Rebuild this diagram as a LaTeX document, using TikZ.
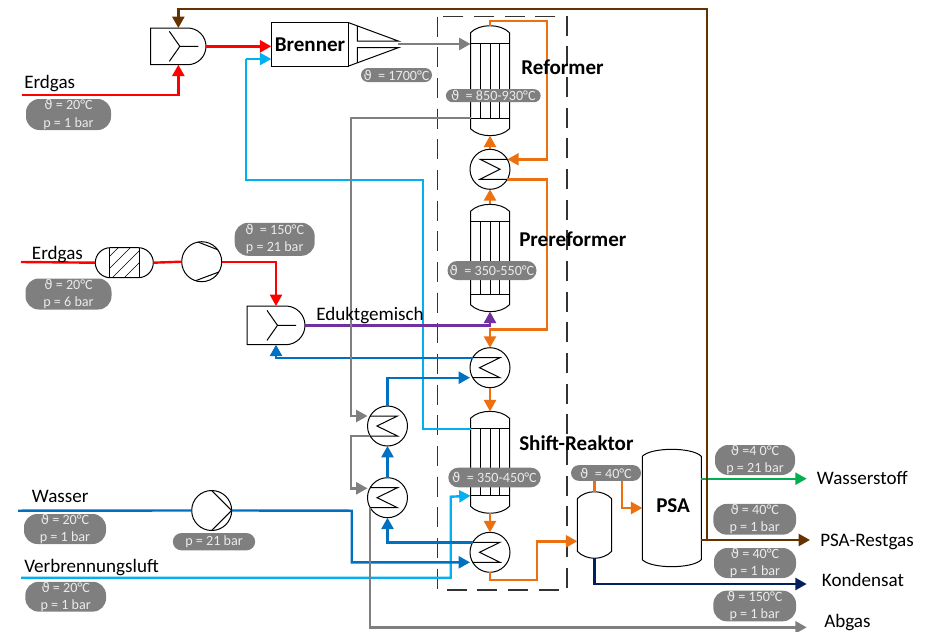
\documentclass[tikz,border=0pt]{standalone}
\usepackage{fontspec}
\setmainfont{Carlito}
\newfontfamily\thetafont{DejaVu Sans}
\usepackage{tikz}
\usetikzlibrary{arrows.meta,positioning,shapes.misc,calc}
\definecolor{flowred}{HTML}{FF0000}
\definecolor{flowsky}{HTML}{00B0F0}
\definecolor{flowblue}{HTML}{0070C0}
\definecolor{floworange}{HTML}{ED7010}
\definecolor{flowbrown}{HTML}{663300}
\definecolor{flowgray}{HTML}{7F7F7F}
\definecolor{flowpurple}{HTML}{7030A0}
\definecolor{flowgreen}{HTML}{00B050}
\definecolor{flownavy}{HTML}{002060}
\newcommand{\Temp}{{\thetafont\fontsize{10}{12}\selectfont ϑ}}
\tikzset{
  pipe/.style={line width=1.8pt},
  flow/.style={pipe,-{Triangle[length=8.5pt,width=9pt]}},
  apparat/.style={draw=black,line width=.75pt},
  badge/.style 2 args={fill=flowgray,text=white!92!black,rounded corners=10pt,align=center,inner sep=0pt,
    minimum width={#1*.75pt},minimum height={#2*.75pt},font=\fontsize{10.6}{13}\selectfont},
  kleinbadge/.style 2 args={rounded rectangle,fill=flowgray,text=white!92!black,inner sep=0pt,
    minimum width={#1*.75pt},minimum height={#2*.75pt},font=\fontsize{10.6}{13}\selectfont},
  strom/.style={anchor=base west,inner sep=0pt,font=\fontsize{14.3}{17}\selectfont},
  titel/.style={anchor=base west,inner sep=0pt,font=\fontsize{15.8}{18}\selectfont\bfseries},
  rund/.style={circle,apparat,inner sep=0pt,outer sep=0pt,minimum size=30pt},
  tauscherlinks/.style={rund,path picture={
    \draw[apparat,shift={(path picture bounding box.center)}] (-21,-10) -- (10,-10) -- (-10.5,0) -- (10,10) -- (-21,10);}},
  tauscherrechts/.style={rund,path picture={
    \draw[apparat,shift={(path picture bounding box.center)}] (21,-10) -- (-10,-10) -- (10,0) -- (-10,10) -- (21,10);}},
  verdichter/.style={rund,path picture={
    \draw[apparat,shift={(path picture bounding box.center)}] (-4.5,-20) -- (18.5,-11) (-7.5,19.5) -- (18,10);}},
  pumpe/.style={rund,path picture={
    \draw[apparat,shift={(path picture bounding box.center)}] (0,-20) -- (20,0) -- (0,20);}},
  mischer/.style 2 args={rounded rectangle,rounded rectangle west arc=none,apparat,inner sep=0pt,outer sep=0pt,
    minimum width={#1*.75pt},minimum height={#2*.75pt},path picture={
    \draw[apparat,shift={(path picture bounding box.center)}]
      (-9,-15) -- (1.5,0) -- (-9,15) (1.5,0) -- (20,0);}},
  filterbox/.style={rounded rectangle,apparat,inner sep=0pt,outer sep=0pt,
    minimum width={58*.75pt},minimum height={30*.75pt},path picture={
    \begin{scope}[shift={(path picture bounding box.center)}]
      \draw[apparat] (-14.7,-16) -- (-14.7,16) (14.7,-16) -- (14.7,16);
      \clip (-14.7,-15) rectangle (14.7,15);
      \foreach \d in {-36,-24,-12,0} \draw[line width=.5pt] (\d,15) -- (\d+30,-15);
    \end{scope}}},
}
%% behaelter: name, x, half width, y top, y bottom
\newcommand{\behaelter}[5]{%
  \node[inner sep=0pt,outer sep=0pt,minimum width={2*#3*.75pt},minimum height={(#5-#4)*.75pt}] (#1) at (#2,{(#4+#5)/2}) {};
  \draw[apparat] ({#2-#3},{#4+7}) .. controls ({#2-#3+9},{#4-2.3}) and ({#2+#3-9},{#4-2.3}) .. ({#2+#3},{#4+7})
    -- ({#2+#3},{#5-7}) .. controls ({#2+#3-9},{#5+2.3}) and ({#2-#3+9},{#5+2.3}) .. ({#2-#3},{#5-7}) -- cycle;
}
%% reaktor: name, y top, y bottom
\newcommand{\reaktor}[3]{%
  \behaelter{#1}{490}{19.5}{#2}{#3}
  \coordinate (#1tl) at (470.5,{#2+17.5});
  \coordinate (#1bl) at (470.5,{#3-17.5});
  \draw[apparat] (#1tl) -- +(39,0) (#1bl) -- +(39,0);
  \foreach \rohr in {-9.5,0,9.5}
    \draw[apparat] ({490+\rohr},{#2+17.5}) -- ({490+\rohr},{#3-17.5});
}

\begin{document}
\begin{tikzpicture}[x=.75pt,y=-.75pt]
  \useasboundingbox (0,0) rectangle (926,632);

  %% ---- apparatus ----
  \node[apparat,inner sep=0pt,outer sep=0pt,minimum width={77.4*.75pt},minimum height={43.3*.75pt},
    font=\fontsize{15.8}{18}\selectfont\bfseries] (brenner) at (310,44.35) {Brenner};
  \draw[apparat] (brenner.north east) -- (398.3,41) -- (357.3,41) -- (357.3,26);
  \draw[apparat] (brenner.south east) -- (398.3,47.7) -- (357.3,47.7) -- (357.3,62.7);
  \coordinate (duese) at (398.3,44);

  \node[mischer={55.3}{36.7}] (mixa) at (178.35,46.35) {};
  \node[mischer={58}{38.7}] (mixb) at (276,325.35) {};
  \node[filterbox] (filter) at (124.3,262.7) {};
  \node[verdichter] (verd) at (201.7,261.7) {};
  \node[pumpe] (pump) at (211.7,510.5) {};

  \reaktor{reformer}{25.7}{135.7}
  \reaktor{prereformer}{204.3}{311.7}
  \reaktor{shift}{411.3}{513.3}
  \behaelter{abscheider}{594.5}{17.2}{491.7}{558.3}
  \behaelter{psa}{671.8}{29.5}{449.3}{566.7}

  \node[tauscherrechts] (hxa) at (490,169.3) {};
  \node[tauscherlinks] (hxb) at (490,367.7) {};
  \node[tauscherlinks] (hxc) at (490,552.3) {};
  \node[tauscherlinks] (hxd) at (387.5,426) {};
  \node[tauscherlinks] (hxe) at (387.5,497.7) {};

  %% dashed frame
  \draw[black!80,line width=.85pt,dash pattern=on 15pt off 8pt] (437.3,16.7) rectangle (567,590);

  %% ---- free ends and bends ----
  \coordinate (erdgasa) at (22,95);
  \coordinate (erdgasb) at (21,262);
  \coordinate (wasser) at (18,510.7);
  \coordinate (luft) at (21,577.7);
  \coordinate (wasserstoff) at (806.7,478.7);
  \coordinate (restgas) at (810,540);
  \coordinate (kondensat) at (806.7,584);
  \coordinate (abgas) at (806.7,627.3);

  %% ---- red: natural gas ----
  \draw[flow,flowred] (erdgasa) -| (mixa.south);
  \draw[flow,flowred] (mixa.east) -- (mixa.east -| brenner.west);
  \draw[pipe,flowred] (erdgasb) -- (filter.west);
  \draw[pipe,flowred] (filter.east) -- (verd.west);
  \draw[flow,flowred] (verd.east) -| (mixb.north);

  %% ---- light blue: combustion air ----
  \coordinate (luftk) at (450.7,496.7);
  \coordinate (luftb) at (422.7,180);
  \coordinate (luftc) at (246,59);
  \draw[pipe,flowsky] (shifttl) -| (luftb) -| (luftc);
  \draw[flow,flowsky] (luftc) -- (luftc -| brenner.west);
  \draw[flow,flowsky] (luft) -| (luftk) -- (shiftbl);

  %% ---- blue: water ----
  \coordinate (wasserk) at (351.7,510.7);
  \draw[pipe,flowblue] (wasser) -- (pump.west);
  \draw[flow,flowblue] (pump.east) -- (wasserk) |- (hxc.210 -| hxc.west);
  \draw[flow,flowblue] (hxc.150) -| (hxe.south);
  \draw[flow,flowblue] (hxe.north) -- (hxd.south);
  \draw[flow,flowblue] (hxd.north) |- (hxb.210 -| hxb.west);
  \draw[flow,flowblue] (hxb.150) -| (mixb.south);

  %% ---- purple: feed mixture ----
  \draw[flow,flowpurple] (mixb.east) -| (prereformer.south);

  %% ---- orange: process gas ----
  \coordinate (orangea) at (547,21);
  \coordinate (orangeb) at (547,329.3);
  \coordinate (orangec) at (536.7,580);
  \coordinate (oranged) at (577.3,541.3);
  \coordinate (orangee) at (621.7,473);
  \draw[flow,floworange] (reformer.north) |- (orangea) |- (hxa.30);
  \draw[flow,floworange] (hxa.north) -- (reformer.south);
  \draw[flow,floworange] (prereformer.north) -- (hxa.south);
  \draw[flow,floworange] (hxa.330) -| (orangeb) -| (hxb.north);
  \draw[flow,floworange] (hxb.south) -- (shift.north);
  \draw[flow,floworange] (shift.south) -- (hxc.north);
  \draw[flow,floworange] (hxc.south) |- (orangec) |- (oranged);
  \draw[flow,floworange] (abscheider.north) |- (orangee) |- (psa.west);

  %% ---- products ----
  \coordinate (abzweig) at (706.7,540);
  \coordinate (brownturn) at (706.7,9);
  \coordinate (psarest) at (701.3,540);
  \coordinate (psaprod) at (701.3,478.7);
  \draw[flow,flowgreen] (psaprod) -- (wasserstoff);
  \draw[flow,flowbrown] (psarest) -- (restgas);
  \draw[flow,flowbrown] (abzweig) -- (brownturn) -| (mixa.north);
  \draw[flow,flownavy] (abscheider.south) |- (kondensat);

  %% ---- gray: flue gas ----
  \coordinate (rauchb) at (351,117.3);
  \coordinate (rauchc) at (351,488.3);
  \draw[flow,flowgray] (duese) -- (duese -| reformer.west);
  \draw[flow,flowgray] (reformerbl) -| (rauchb) |- (hxd.150 -| hxd.west);
  \draw[flow,flowgray] (hxd.210) -| (rauchc) -- (rauchc -| hxe.west);
  \draw[flow,flowgray] (hxe.210) |- (abgas);

  %% ---- labels ----
  \node[strom] (txterdgasa) at (24,88) {Erdgas};
  \node[strom] (txterdgasb) at (31.7,259.3) {Erdgas};
  \node[strom] (txtedukt) at (316,320) {Eduktgemisch};
  \node[strom] (txtwasser) at (31.7,502) {Wasser};
  \node[strom] (txtluft) at (24,572) {Verbrennungsluft};
  \node[strom] (txtstoff) at (816.7,484) {Wasserstoff};
  \node[strom] (txtrest) at (820,546.7) {PSA-Restgas};
  \node[strom] (txtkond) at (821.7,586) {Kondensat};
  \node[strom] (txtabgas) at (824,627.5) {Abgas};
  \node[titel] (txtreformer) at (521,74) {Reformer};
  \node[titel] (txtpre) at (519,246.7) {Prereformer};
  \node[titel] (txtshift) at (519,450) {Shift-Reaktor};
  \node[titel] (txtpsa) at (656,512.7) {PSA};

  %% ---- process conditions ----
  \node[badge={85}{31}] (ba) at (68.5,114.5) {\Temp{} = 20°C\\p = 1 bar};
  \node[kleinbadge={71}{14}] (bb) at (396.5,75) {\Temp{}\ \ = 1700°C};
  \node[kleinbadge={94.7}{13}] (bc) at (493.3,95.7) {\Temp{}\ \ = 850-930°C};
  \node[badge={80}{33}] (bd) at (274.7,239.3) {\Temp{}\ \ = 150°C\\p = 21 bar};
  \node[badge={86}{31}] (be) at (68.5,294) {\Temp{} = 20°C\\p = 6 bar};
  \node[kleinbadge={89}{19}] (bf) at (492,270.5) {\Temp{}\ \ = 350-550°C};
  \node[kleinbadge={92.4}{19.6}] (bg) at (494.5,477.5) {\Temp{}\ \ = 350-450°C};
  \node[kleinbadge={70}{15.7}] (bh) at (606,473) {\Temp{}\ \ = 40°C};
  \node[badge={80}{30}] (bi) at (755,460) {\Temp{} =4 0°C\\p = 21 bar};
  \node[badge={82.7}{30.7}] (bj) at (754.7,519.3) {\Temp{} = 40°C\\p = 1 bar};
  \node[badge={82}{30}] (bk) at (755,563) {\Temp{} = 40°C\\p = 1 bar};
  \node[badge={82.7}{30.6}] (bl) at (754.7,606) {\Temp{} = 150°C\\p = 1 bar};
  \node[badge={82}{30}] (bm) at (65,529) {\Temp{} = 20°C\\p = 1 bar};
  \node[kleinbadge={82.3}{17.3}] (bn) at (214,541.7) {p = 21 bar};
  \node[badge={80.7}{29.3}] (bo) at (65.7,596.7) {\Temp{} = 20°C\\p = 1 bar};
\end{tikzpicture}
\end{document}
